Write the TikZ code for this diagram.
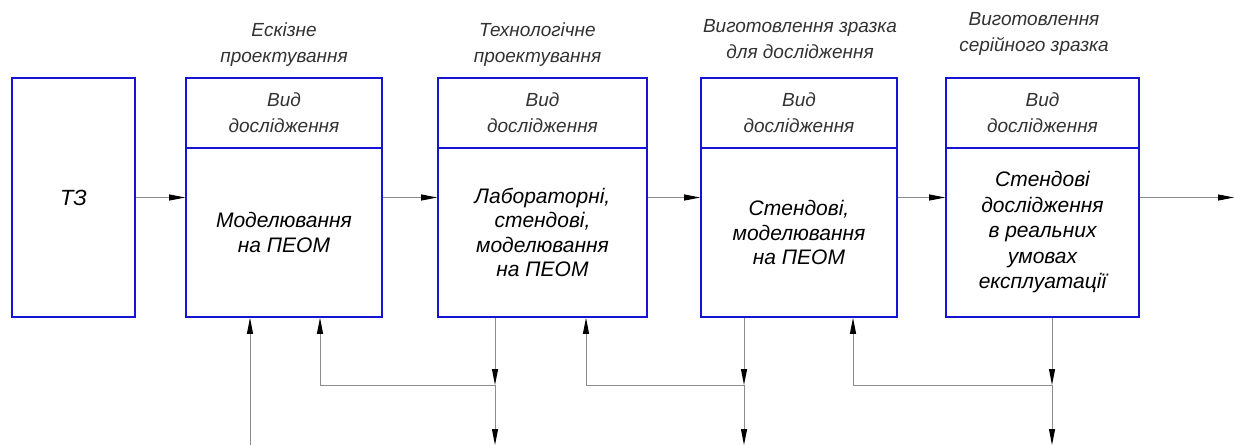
\documentclass[tikz,border=0pt]{standalone}
\usepackage{fontspec}
\setmainfont{Liberation Sans}
\usetikzlibrary{arrows.meta}
\definecolor{boxblue}{RGB}{20,20,210}
\definecolor{linegray}{RGB}{140,140,140}
\definecolor{txtgray}{RGB}{50,50,50}
\begin{document}
\begin{tikzpicture}[x=1pt,y=-1pt,
  frame/.style={draw=boxblue, line width=1.6pt, inner sep=0pt, align=center},
  headbox/.style={frame, minimum height=70pt, text=txtgray, font=\itshape\fontsize{19}{26}\selectfont},
  bodybox/.style={frame, minimum height=169pt, font=\itshape\fontsize{21}{24.5}\selectfont},
  stagelbl/.style={align=center, inner sep=0pt, text=txtgray, font=\itshape\fontsize{19}{26}\selectfont},
  conn/.style={draw=linegray, line width=1pt, -{Triangle[length=16pt,width=6pt,color=black]}},
  plain/.style={draw=linegray, line width=1pt}]
\useasboundingbox (0,0) rectangle (1234,445);

% T3 box
\node[frame, minimum width=123pt, minimum height=239pt, font=\itshape\fontsize{22}{26}\selectfont] (tz) at (73.5,197.5) {ТЗ};

% stage boxes
\node[headbox, minimum width=196pt] (h1) at (284,113) {Вид\\дослідження};
\node[bodybox, minimum width=196pt] (m1) at (284,232.5) {Моделювання\\ на ПЕОМ};

\node[headbox, minimum width=209pt] (h2) at (542.5,113) {Вид\\дослідження};
\node[bodybox, minimum width=209pt] (m2) at (542.5,232.5) {Лабораторні,\\стендові,\\моделювання\\на ПЕОМ};

\node[headbox, minimum width=196pt] (h3) at (799,113) {Вид\\дослідження};
\node[bodybox, minimum width=196pt] (m3) at (799,232.5) {Стендові,\\моделювання\\на ПЕОМ};

\node[headbox, minimum width=193pt] (h4) at (1042.5,113) {Вид\\дослідження};
\node[bodybox, minimum width=193pt, font=\itshape\fontsize{21}{25.5}\selectfont] (m4) at (1042.5,232.5) {Стендові\\дослідження\\в реальних\\умовах\\експлуатації};

% stage labels
\node[stagelbl] (l1) at (284,45) {Ескізне\\проектування};
\node[stagelbl] (l2) at (537.5,45) {Технологічне\\проектування};
\node[stagelbl] (l3) at (800,39.5) {Виготовлення зразка\\для дослідження};
\node[stagelbl] (l4) at (1034,33.5) {Виготовлення\\серійного зразка};

% helper coordinates
\coordinate (out) at (1234,197.5);
\coordinate (in0) at (250,445);
\coordinate (bus1) at (495,385);
\coordinate (bus2) at (744,385);
\coordinate (bus3) at (1052,385);
\coordinate (end1) at (495,445);
\coordinate (end2) at (744,445);
\coordinate (end3) at (1052,445);
\coordinate (fb1) at (320,385);
\coordinate (fb2) at (586,385);
\coordinate (fb3) at (853,385);

% main flow
\draw[conn] (tz.east) -- (tz.east -| m1.west);
\draw[conn] (m1.east |- tz.east) -- (m2.west |- tz.east);
\draw[conn] (m2.east |- tz.east) -- (m3.west |- tz.east);
\draw[conn] (m3.east |- tz.east) -- (m4.west |- tz.east);
\draw[conn] (m4.east |- tz.east) -- (out);

% input from below
\draw[conn] (in0) -- (in0 |- m1.south);

% outputs down and feedback
\draw[conn] (bus1 |- m2.south) -- (bus1);
\draw[conn] (bus1) -- (end1);
\draw[conn] (bus1) -- (fb1) -- (fb1 |- m1.south);

\draw[conn] (bus2 |- m3.south) -- (bus2);
\draw[conn] (bus2) -- (end2);
\draw[conn] (bus2) -- (fb2) -- (fb2 |- m2.south);

\draw[conn] (bus3 |- m4.south) -- (bus3);
\draw[conn] (bus3) -- (end3);
\draw[conn] (bus3) -- (fb3) -- (fb3 |- m3.south);
\end{tikzpicture}
\end{document}
